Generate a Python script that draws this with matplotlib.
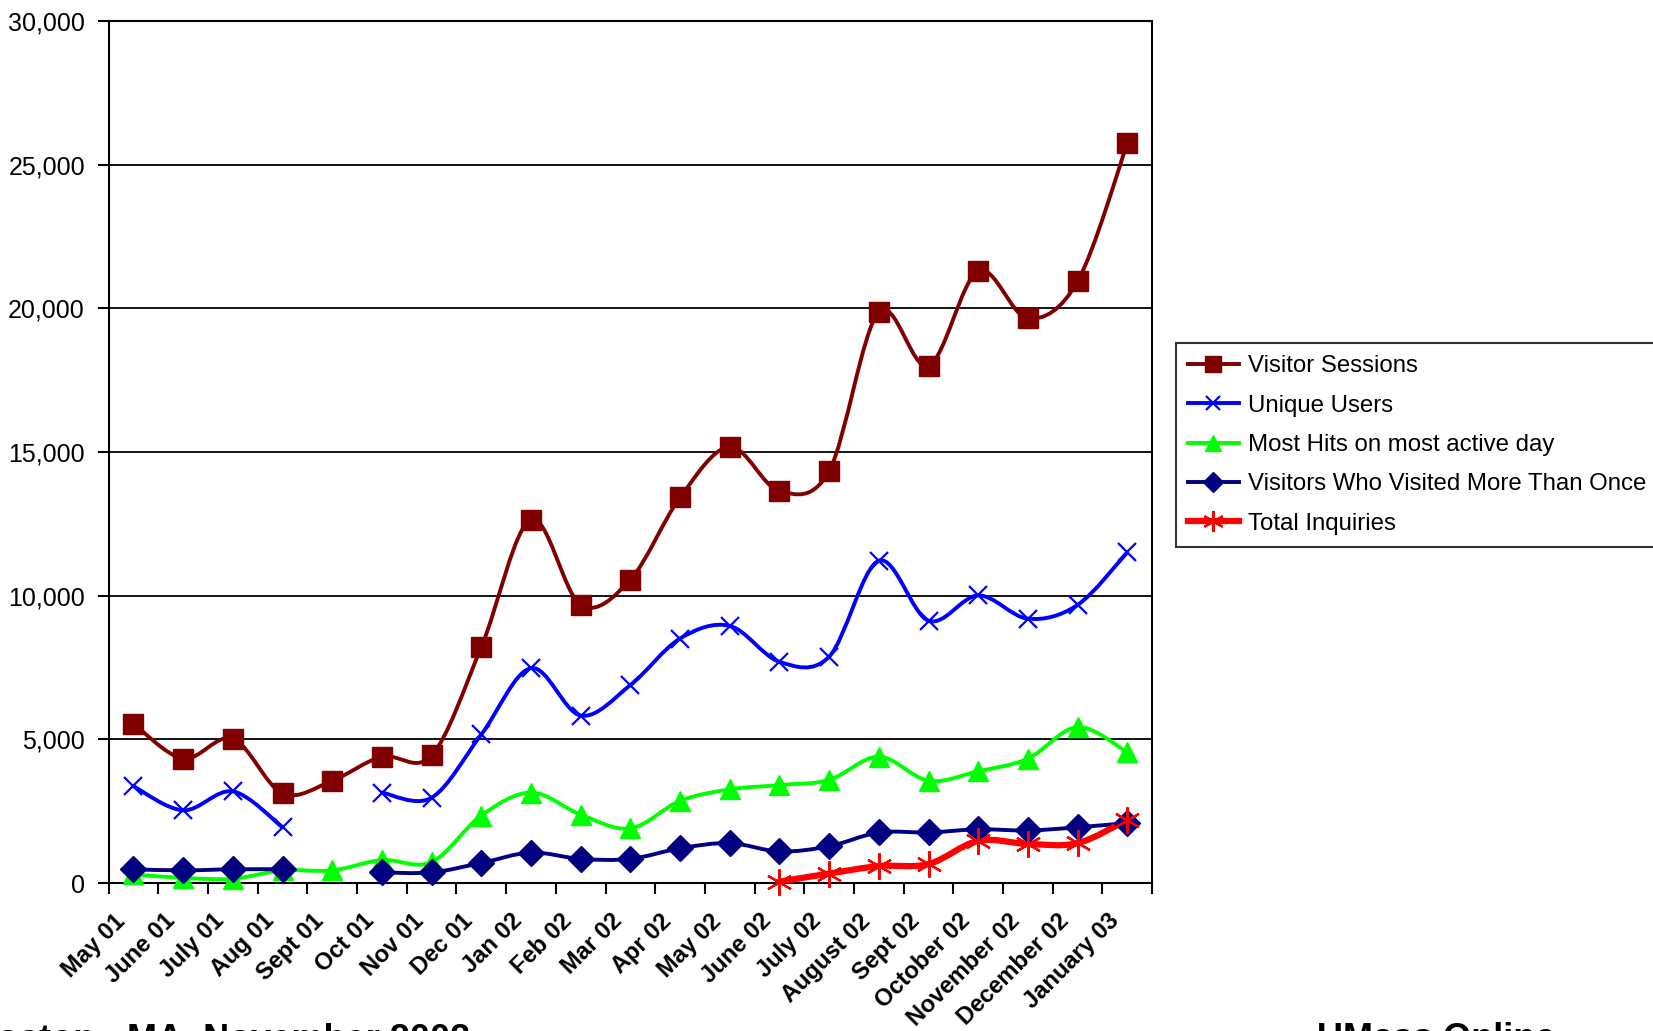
#!/usr/bin/env python3
"""
plot.py - monthly web traffic, May 01 to January 03.
"""
import numpy as np
import matplotlib.pyplot as plt
import matplotlib.transforms as mtransforms
from matplotlib.path import Path
from matplotlib.patches import PathPatch
from matplotlib.lines import Line2D
from matplotlib.ticker import FuncFormatter

plt.rcParams["font.family"] = ["Liberation Sans", "DejaVu Sans"]

months = ["May 01", "June 01", "July 01", "Aug 01", "Sept 01", "Oct 01", "Nov 01",
          "Dec 01", "Jan 02", "Feb 02", "Mar 02", "Apr 02", "May 02", "June 02",
          "July 02", "August 02", "Sept 02", "October 02", "November 02",
          "December 02", "January 03"]

nan = np.nan
visitor_sessions = [5550, 4330, 5020, 3120, 3560, 4400, 4440, 8210, 12650, 9680,
                    10560, 13420, 15180, 13640, 14340, 19870, 18000, 21300,
                    19650, 20940, 25740]
unique_users = [3370, 2530, 3190, 1940, nan, 3150, 2970, 5170, 7480, 5830, 6890,
                8510, 8950, 7700, 7880, 11220, 9130, 10010, 9200, 9680, 11510]
most_hits = [300, 180, 150, 440, 440, 800, 730, 2350, 3150, 2380, 1900, 2860,
             3260, 3410, 3590, 4400, 3560, 3890, 4330, 5430, 4550]
repeat_visitors = [480, 440, 480, 480, nan, 370, 370, 700, 1060, 840, 840, 1210,
                   1390, 1100, 1280, 1760, 1760, 1870, 1830, 1940, 2090]
total_inquiries = [nan] * 13 + [50, 330, 590, 660, 1470, 1360, 1390, 2200]

series = [
    # label, values, colour, marker, marker size, line width
    ("Visitor Sessions", visitor_sessions, "#800000", "s", 14.5, 2.8),
    ("Unique Users", unique_users, "#0000FF", "x", 13, 2.8),
    ("Most Hits on most active day", most_hits, "#00FF00", "^", 15, 2.8),
    ("Visitors Who Visited More Than Once", repeat_visitors, "#000080", "D", 13, 2.8),
    ("Total Inquiries", total_inquiries, "#FF0000", (6, 2, 0), 19, 4.5),
]


def smooth_path(xs, ys):
    # Excel-style smoothed line: cubic Bezier segments, Catmull-Rom tangents.
    verts = [(xs[0], ys[0])]
    codes = [Path.MOVETO]
    n = len(xs)
    for i in range(n - 1):
        p0 = np.array([xs[max(i - 1, 0)], ys[max(i - 1, 0)]])
        p1 = np.array([xs[i], ys[i]])
        p2 = np.array([xs[i + 1], ys[i + 1]])
        p3 = np.array([xs[min(i + 2, n - 1)], ys[min(i + 2, n - 1)]])
        c1 = p1 + (p2 - p0) / 6.0
        c2 = p2 - (p3 - p1) / 6.0
        verts += [tuple(c1), tuple(c2), tuple(p2)]
        codes += [Path.CURVE4] * 3
    return Path(verts, codes)


fig = plt.figure(figsize=(16.53, 10.31), dpi=100)
ax = fig.add_axes([0.0657, 0.1435, 0.6313, 0.8361])

x = np.arange(len(months))
handles = []
for label, vals, color, marker, ms, lw in series:
    y = np.array(vals, dtype=float)
    ok = ~np.isnan(y)
    # split into runs of consecutive valid points
    runs, cur = [], []
    for i in range(len(y)):
        if ok[i]:
            cur.append(i)
        elif cur:
            runs.append(cur)
            cur = []
    if cur:
        runs.append(cur)
    for r in runs:
        if len(r) > 1:
            ax.add_patch(PathPatch(smooth_path(x[r], y[r]), fill=False,
                                   edgecolor=color, lw=lw, capstyle="round",
                                   joinstyle="round", zorder=3))
    mew = 1.6 if marker in ("x", (6, 2, 0)) else 1.0
    ax.plot(x[ok], y[ok], linestyle="none", marker=marker, markersize=ms,
            color=color, markeredgecolor=color, markeredgewidth=mew,
            clip_on=False, zorder=4)
    handles.append(Line2D([], [], color=color, lw=lw, marker=marker,
                          markersize=ms * 0.8, markeredgewidth=mew,
                          label=label))

ax.set_xlim(-0.5, len(months) - 0.5)
ax.set_ylim(0, 30000)
ax.set_yticks(np.arange(0, 30001, 5000))
ax.yaxis.set_major_formatter(FuncFormatter(lambda v, p: f"{int(v):,}"))
ax.grid(axis="y", color="black", lw=1.3)
ax.set_axisbelow(True)

ax.set_xticks(np.arange(-0.5, len(months)), labels=[""] * (len(months) + 1))
ax.set_xticks(x, labels=months, minor=True)
ax.tick_params(axis="x", which="major", length=8, width=1.5, direction="out")
ax.tick_params(axis="x", which="minor", length=0, pad=19)
ax.tick_params(axis="y", length=8, width=1.5, direction="out", labelsize=18, pad=9)
shift = mtransforms.ScaledTranslation(-20 / 100, 0, fig.dpi_scale_trans)
for t in ax.get_xticklabels(minor=True):
    t.set_rotation(45)
    t.set_ha("right")
    t.set_va("top")
    t.set_rotation_mode("anchor")
    t.set_fontweight("bold")
    t.set_fontsize(17)
    t.set_transform(t.get_transform() + shift)
for s in ax.spines.values():
    s.set_linewidth(1.5)

leg = fig.legend(handles=handles, loc="upper left",
                 bbox_to_anchor=(0.7115, 0.667), borderaxespad=0,
                 fontsize=17.3, frameon=True, fancybox=False,
                 edgecolor="black", handlelength=2.1, handletextpad=0.4,
                 labelspacing=0.72, borderpad=0.5)
leg.get_frame().set_linewidth(1.5)

# footer lines cut off by the bottom edge of the page
fig.text(0.064, 0.0087, "Boston,", ha="right", va="top",
         fontsize=26, fontweight="bold")
fig.text(0.077, 0.0087, "MA, November 2002", ha="left", va="top",
         fontsize=26, fontweight="bold")
fig.text(0.797, 0.0087, "UMass Online", ha="left", va="top",
         fontsize=26, fontweight="bold")

fig.savefig("out.png", dpi=100)
